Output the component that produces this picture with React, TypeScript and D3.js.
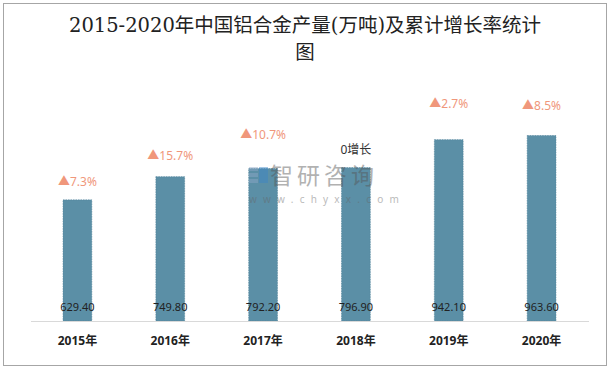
import React from "react";
import * as d3 from "d3";

const W = 610;
const H = 370;
const MARGIN = { top: 90, right: 22, bottom: 49, left: 31 };

const years = ["2015年", "2016年", "2017年", "2018年", "2019年", "2020年"];
const output = [629.4, 749.8, 792.2, 796.9, 942.1, 963.6];
const growth = ["▲7.3%", "▲15.7%", "▲10.7%", "0增长", "▲2.7%", "▲8.5%"];
// distance of each growth label above its bar (hand placed in the source)
const growthGap = [17, 20, 33, 17, 35, 29];

const BAR_COLOR = "#5b8fa6";
const UP_COLOR = "#f0977b";
const FONT = "'Noto Sans', 'Noto Sans CJK SC', sans-serif";
const TITLE_FONT = "'DejaVu Serif', 'Noto Sans CJK SC', serif";

export default function App() {
  const boundsWidth = W - MARGIN.left - MARGIN.right;
  const boundsHeight = H - MARGIN.top - MARGIN.bottom;

  const xScale = d3.scaleBand().domain(years).range([0, boundsWidth]).paddingInner(0.69).paddingOuter(0.345);
  const yScale = d3.scaleLinear().domain([0, 1200]).range([boundsHeight, 0]);

  const bars = output.map((v, i) => {
    const x = xScale(years[i]);
    if (x === undefined) return null;
    const cx = x + xScale.bandwidth() / 2;
    const isUp = growth[i].startsWith("▲");
    return (
      <g key={i}>
        <rect
          x={x}
          y={yScale(v)}
          width={xScale.bandwidth()}
          height={boundsHeight - yScale(v)}
          fill={BAR_COLOR}
          stroke="#4f8299"
          strokeWidth={0.6}
          strokeDasharray="1.5 1"
        />
        <text x={cx} y={boundsHeight - 10} textAnchor="middle" fontSize={11} fill="#222" fontFamily={FONT}>
          {v.toFixed(2)}
        </text>
        <text
          x={cx}
          y={yScale(v) - growthGap[i]}
          textAnchor="middle"
          dominantBaseline="middle"
          fontSize={12}
          fill={isUp ? UP_COLOR : "#333"}
          fontFamily={FONT}
        >
          {growth[i]}
        </text>
        <text
          x={cx}
          y={boundsHeight + 24}
          textAnchor="middle"
          fontSize={12}
          fontWeight="bold"
          fill="#222"
          fontFamily={FONT}
        >
          {years[i]}
        </text>
      </g>
    );
  });

  return (
    <svg width={W} height={H} style={{ position: "absolute", left: 0, top: 0, background: "#fff" }}>
      <rect x={3.5} y={3.5} width={603} height={362} fill="#fff" stroke="#a6a6a6" strokeWidth={1} />
      <text x={305} y={32} textAnchor="middle" fontSize={19.5} fill="#222" fontFamily={TITLE_FONT}>
        2015-2020年中国铝合金产量(万吨)及累计增长率统计
      </text>
      <text x={305} y={59} textAnchor="middle" fontSize={19.5} fill="#222" fontFamily={TITLE_FONT}>
        图
      </text>
      <g transform={`translate(${MARGIN.left},${MARGIN.top})`}>
        {bars}
        <line x1={0} x2={boundsWidth + 1} y1={boundsHeight + 0.5} y2={boundsHeight + 0.5} stroke="#d9d9d9" />
      </g>
      {/* watermark */}
      <g opacity={0.45}>
        <rect x={249} y={167} width={9} height={4} fill="#8fa9c8" />
        <rect x={249} y={173} width={9} height={4} fill="#8fa9c8" />
        <rect x={249} y={179} width={9} height={4} fill="#8fa9c8" />
        <rect x={259} y={167} width={9} height={16} fill="#3a86c8" />
        <text x={270} y={184} fontSize={23} fill="#555" fontFamily={FONT} letterSpacing={4}>
          智研咨询
        </text>
        <text x={249} y={203} fontSize={10} fill="#666" fontFamily={FONT} letterSpacing={6.2}>
          www.chyxx.com
        </text>
      </g>
    </svg>
  );
}
